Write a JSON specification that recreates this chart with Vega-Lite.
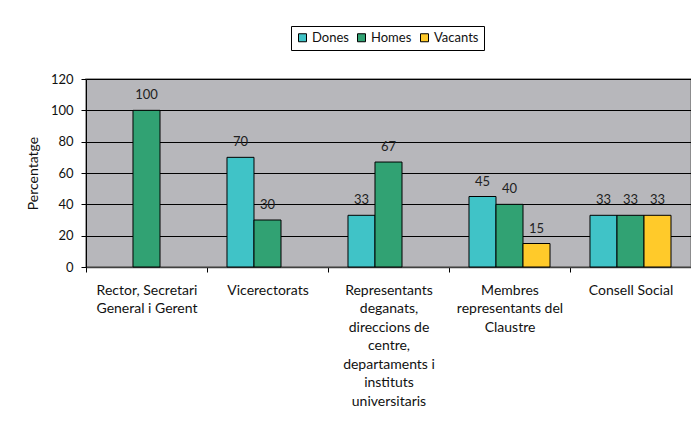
{
  "$schema": "https://vega.github.io/schema/vega-lite/v6.json",
  "autosize": "none",
  "width": 605,
  "height": 188,
  "padding": {"left": 86, "top": 79, "right": 0, "bottom": 154},
  "background": "white",
  "config": {
    "font": "Lato",
    "view": {"stroke": "#7f7f7f", "strokeWidth": 1.5, "fill": "#b7b7bb"}
  },
  "data": {
    "values": [
      {"cat": "Rector, Secretari General i Gerent", "serie": "Homes", "pct": 100},
      {"cat": "Vicerectorats", "serie": "Dones", "pct": 70},
      {"cat": "Vicerectorats", "serie": "Homes", "pct": 30},
      {"cat": "Representants deganats, direccions de centre, departaments i instituts universitaris", "serie": "Dones", "pct": 33},
      {"cat": "Representants deganats, direccions de centre, departaments i instituts universitaris", "serie": "Homes", "pct": 67},
      {"cat": "Membres representants del Claustre", "serie": "Dones", "pct": 45},
      {"cat": "Membres representants del Claustre", "serie": "Homes", "pct": 40},
      {"cat": "Membres representants del Claustre", "serie": "Vacants", "pct": 15},
      {"cat": "Consell Social", "serie": "Dones", "pct": 33},
      {"cat": "Consell Social", "serie": "Homes", "pct": 33},
      {"cat": "Consell Social", "serie": "Vacants", "pct": 33}
    ]
  },
  "encoding": {
    "x": {
      "field": "cat",
      "type": "nominal",
      "sort": null,
      "scale": {
        "domain": [
          "Rector, Secretari General i Gerent",
          "Vicerectorats",
          "Representants deganats, direccions de centre, departaments i instituts universitaris",
          "Membres representants del Claustre",
          "Consell Social"
        ],
        "paddingInner": 0,
        "paddingOuter": 0
      },
      "axis": {
        "title": null,
        "labelAngle": 0,
        "tickBand": "extent",
        "tickSize": 5,
        "tickColor": "#000000",
        "domainColor": "#404040",
        "domainWidth": 1.5,
        "labelFont": "Lato",
        "labelFontSize": 14,
        "labelColor": "#111111",
        "labelPadding": 11,
        "labelLineHeight": 18.5,
        "labelLimit": 200,
        "labelExpr": "datum.label == 'Rector, Secretari General i Gerent' ? ['Rector, Secretari', 'General i Gerent'] : datum.label == 'Membres representants del Claustre' ? ['Membres', 'representants del', 'Claustre'] : indexof(datum.label, 'Representants') == 0 ? ['Representants', 'deganats,', 'direccions de', 'centre,', 'departaments i', 'instituts', 'universitaris'] : datum.label"
      }
    },
    "xOffset": {
      "field": "serie",
      "type": "nominal",
      "scale": {"domain": ["Dones", "Homes", "Vacants"], "paddingInner": 0, "paddingOuter": 0.74}
    },
    "y": {
      "field": "pct",
      "type": "quantitative",
      "scale": {"domain": [0, 120], "nice": false},
      "axis": {
        "title": "Percentatge",
        "titleFont": "Lato",
        "titleFontSize": 14,
        "titleFontWeight": "normal",
        "titleColor": "#111111",
        "titlePadding": 10,
        "values": [0, 20, 40, 60, 80, 100, 120],
        "grid": true,
        "gridColor": "#000000",
        "gridWidth": 1,
        "gridOpacity": 1,
        "domainColor": "#000000",
        "tickColor": "#000000",
        "tickSize": 5,
        "labelFont": "Lato",
        "labelFontSize": 13,
        "labelColor": "#111111",
        "labelPadding": 8
      }
    }
  },
  "layer": [
    {
      "mark": {"type": "bar", "stroke": "#000000", "strokeWidth": 1},
      "encoding": {
        "color": {
          "field": "serie",
          "type": "nominal",
          "scale": {"domain": ["Dones", "Homes", "Vacants"], "range": ["#40c3c7", "#31a273", "#ffca2a"]},
          "legend": {
            "title": null,
            "orient": "none",
            "direction": "horizontal",
            "legendX": 205,
            "legendY": -53,
            "strokeColor": "#000000",
            "fillColor": "#ffffff",
            "padding": 5,
            "symbolType": "square",
            "symbolSize": 64,
            "symbolStrokeColor": "#000000",
            "symbolStrokeWidth": 1,
            "symbolOpacity": 1,
            "labelFont": "Lato",
            "labelFontSize": 13,
            "labelColor": "#111111",
            "labelOffset": 3,
            "columnPadding": 6
          }
        }
      }
    },
    {
      "mark": {"type": "text", "baseline": "middle", "dy": -15, "fontSize": 13, "font": "Lato", "color": "#222222"},
      "encoding": {"text": {"field": "pct", "type": "quantitative"}}
    }
  ]
}
